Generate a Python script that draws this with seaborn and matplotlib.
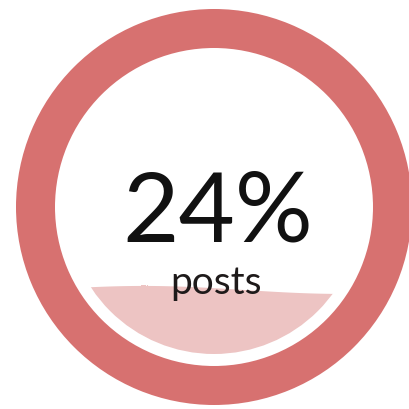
import numpy as np
import matplotlib
matplotlib.use("Agg")
import matplotlib.pyplot as plt
import seaborn as sns
from matplotlib.patches import Wedge, Circle

# data
value_pct = 24
label = "posts"

sns.set_theme(style="white")
plt.rcParams['font.family'] = ['Lato', 'DejaVu Sans']

ring_color = "#D77170"
fill_color = "#EDC4C3"

fig = plt.figure(figsize=(4.09, 4.09), dpi=100)
ax = fig.add_axes([0, 0, 1, 1])
ax.set_xlim(0, 409)
ax.set_ylim(409, 0)
ax.set_aspect('equal')
ax.axis('off')

cx, cy = 214, 207
R_out, ring_w = 198, 39
R_fill = 147

ax.add_patch(Wedge((cx, cy), R_out, 0, 360, width=ring_w, facecolor=ring_color, edgecolor='none'))

# liquid fill level
level = cy + R_fill - 2 * R_fill * value_pct / 100
xs = np.linspace(cx - R_fill - 2, cx + R_fill + 2, 300)
amp = 4
ytop = level + 6 - amp * np.cos(2 * np.pi * (xs - 143) / 400)
clip = Circle((cx, cy), R_fill, transform=ax.transData)
poly = ax.fill_between(xs, ytop, cy + R_fill + 5, color=fill_color, linewidth=0)
poly.set_clip_path(clip)

ax.text(218, 242, f"{value_pct}%", fontsize=70, ha='center', va='baseline', color='#111111')
ax.text(216, 294, label, fontsize=28, ha='center', va='baseline', color='#1e1a1a')

fig.savefig("out.png", dpi=100)
